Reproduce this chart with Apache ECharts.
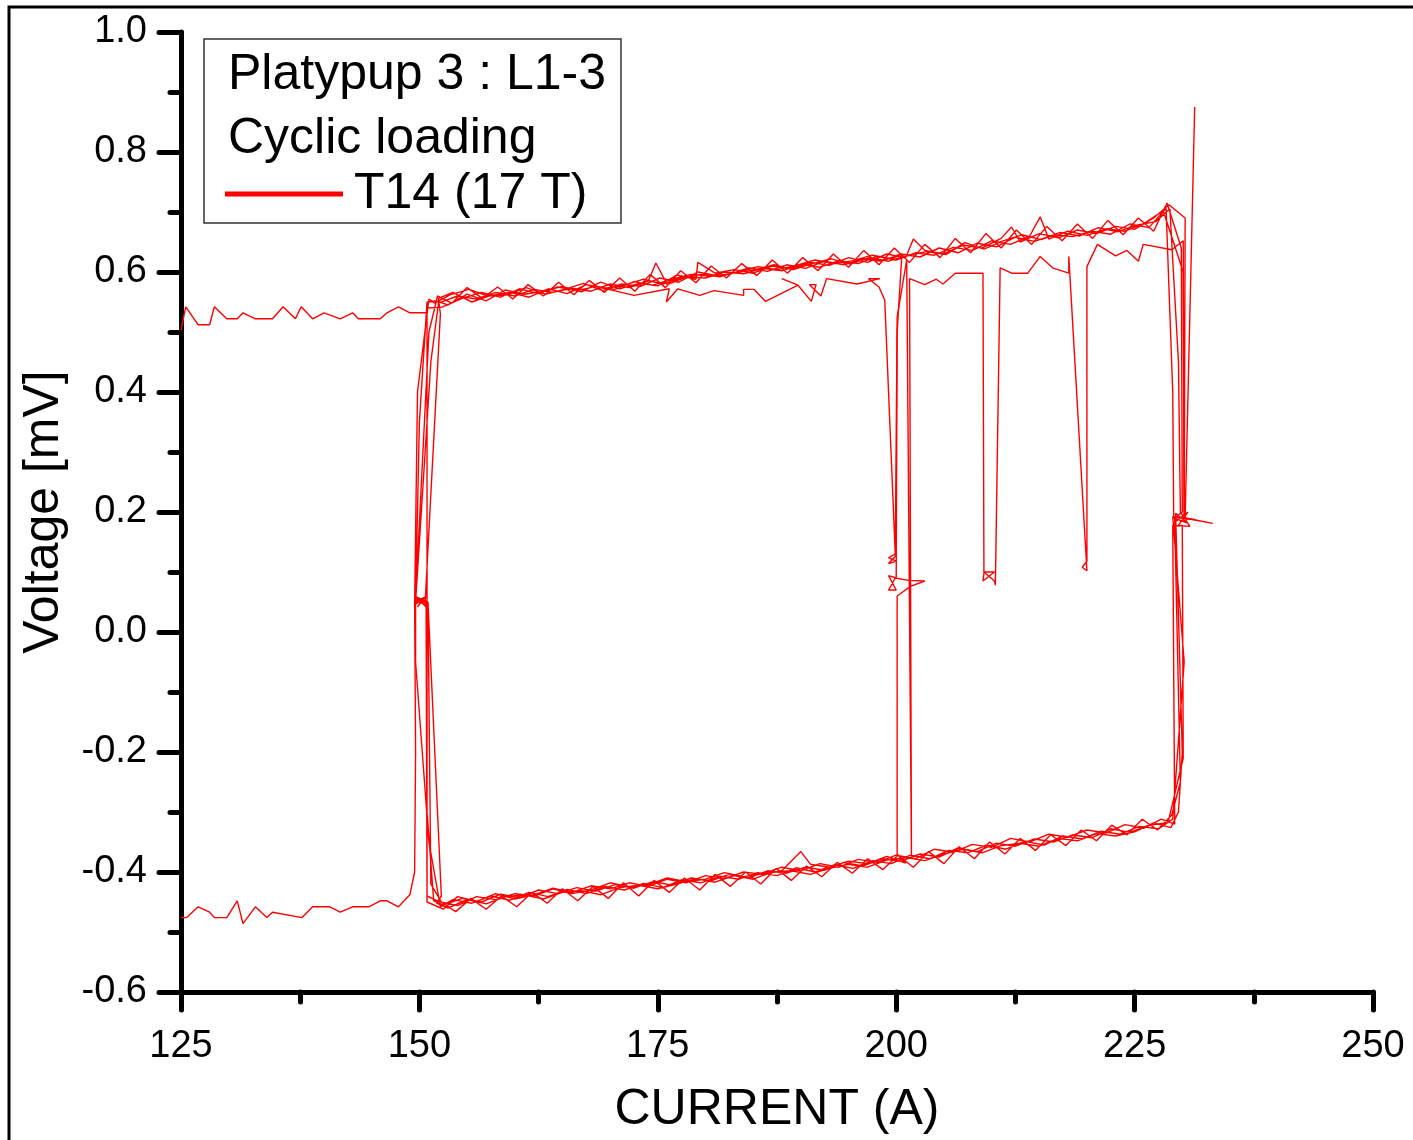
<!DOCTYPE html>
<html>
<head>
<meta charset="utf-8">
<script src="https://cdn.jsdelivr.net/npm/echarts@6/dist/echarts.min.js"></script>
<style>html,body{margin:0;padding:0;background:#fff;}#c{width:1413px;height:1140px;}</style>
</head>
<body>
<div id="c"></div>
<script>
// ---- data: [current (A), voltage (mV)] ----
const seriesName = 'T14 (17 T)';
const xTicks = [125, 150, 175, 200, 225, 250];
const yTicks = [-0.6, -0.4, -0.2, 0.0, 0.2, 0.4, 0.6, 0.8, 1.0];

const initUpper = [[125.0,0.503],[125.5,0.542],[126.8,0.512],[128.0,0.512],[128.5,0.542],[129.8,0.522],[130.9,0.522],[131.5,0.532],[132.8,0.522],[134.6,0.522],[135.7,0.542],[137.0,0.522],[137.6,0.542],[138.8,0.522],[140.0,0.532],[141.7,0.522],[143.0,0.532],[143.6,0.522],[145.9,0.522],[146.6,0.532],[147.8,0.542],[149.0,0.532],[150.8,0.532],[150.8,0.050],[149.6,0.050],[151.2,0.450],[152.0,0.548]];

const initLower = [[125.0,-0.476],[125.6,-0.476],[126.8,-0.458],[128.0,-0.467],[128.5,-0.476],[129.8,-0.476],[130.9,-0.448],[131.5,-0.486],[132.8,-0.458],[134.0,-0.476],[134.6,-0.467],[137.7,-0.476],[138.8,-0.458],[140.6,-0.458],[141.7,-0.467],[143.0,-0.458],[144.7,-0.458],[145.9,-0.448],[146.6,-0.448],[147.8,-0.458],[149.0,-0.438],[149.5,-0.400],[149.6,-0.200],[149.5,0.050],[150.6,0.058],[149.8,0.042]];

const upperA = [[152.0,0.548],[154.0,0.560],[156.0,0.555],[158.0,0.566],[160.0,0.560],[162.0,0.571],[164.0,0.566],[166.0,0.573],[168.0,0.568],[170.0,0.580],[172.0,0.574],[174.0,0.585],[174.8,0.615],[176.0,0.579],[178.0,0.592],[180.0,0.590],[182.0,0.600],[184.0,0.597],[186.0,0.606],[188.0,0.602],[190.0,0.613],[192.0,0.608],[194.0,0.619],[196.0,0.614],[198.0,0.626],[200.0,0.620],[202.0,0.632],[204.0,0.628],[206.0,0.641],[208.0,0.636],[210.0,0.652],[212.0,0.646],[214.0,0.660],[215.1,0.692],[216.0,0.655],[218.0,0.668],[220.0,0.661],[222.0,0.672],[224.0,0.668],[226.0,0.681],[228.0,0.702]];
const rightA = [[228.0,0.702],[230.1,0.600],[230.2,0.195],[229.4,0.185],[230.6,0.200],[229.5,0.176],[230.0,0.178],[230.1,-0.210],[228.5,-0.318]];
const lowerA = [[228.5,-0.318],[226.5,-0.322],[224.5,-0.334],[222.5,-0.328],[220.5,-0.343],[218.5,-0.338],[216.5,-0.350],[214.5,-0.345],[212.5,-0.357],[210.5,-0.352],[208.5,-0.366],[206.5,-0.360],[204.5,-0.375],[202.5,-0.370],[200.5,-0.382],[198.5,-0.378],[196.5,-0.390],[194.5,-0.384],[192.5,-0.397],[190.5,-0.392],[188.5,-0.402],[186.5,-0.398],[184.5,-0.410],[182.5,-0.404],[180.5,-0.415],[178.5,-0.410],[176.5,-0.422],[174.5,-0.416],[172.5,-0.427],[170.5,-0.421],[168.5,-0.432],[166.5,-0.426],[164.5,-0.436],[162.5,-0.430],[160.5,-0.443],[158.5,-0.437],[156.5,-0.450],[154.5,-0.444],[152.5,-0.455],[151.5,-0.448]];
const leftAB = [[151.5,-0.448],[150.8,-0.300],[150.8,0.045],[149.6,0.052],[150.0,0.350],[150.8,0.550],[151.8,0.552]];

const upperB = [[151.8,0.552],[153.0,0.545],[155.0,0.563],[157.0,0.552],[159.0,0.570],[161.0,0.563],[163.0,0.568],[165.0,0.576],[167.0,0.567],[169.0,0.583],[171.0,0.572],[173.0,0.581],[175.0,0.577],[177.0,0.595],[179.0,0.588],[179.2,0.616],[181.0,0.598],[183.0,0.604],[185.0,0.598],[187.0,0.610],[189.0,0.605],[191.0,0.616],[193.0,0.611],[195.0,0.624],[197.0,0.616],[199.0,0.630],[201.0,0.624],[201.8,0.655],[203.0,0.636],[205.0,0.630],[207.0,0.645],[209.0,0.640],[211.0,0.656],[212.1,0.675],[213.0,0.650],[215.0,0.664],[217.0,0.657],[219.0,0.670],[221.0,0.664],[223.0,0.676],[225.0,0.671],[227.0,0.690],[228.6,0.712]];
const rightB = [[228.6,0.712],[230.3,0.690],[230.2,0.190],[231.4,0.187],[229.0,0.192],[230.2,-0.050],[229.0,-0.312]];
const lowerB = [[229.0,-0.312],[227.5,-0.328],[225.5,-0.324],[223.5,-0.337],[221.5,-0.332],[219.5,-0.345],[217.5,-0.340],[215.5,-0.355],[213.5,-0.349],[211.5,-0.362],[209.5,-0.355],[207.5,-0.368],[205.5,-0.364],[203.5,-0.378],[201.5,-0.372],[199.5,-0.386],[197.5,-0.381],[195.5,-0.394],[193.5,-0.388],[191.5,-0.400],[189.5,-0.393],[187.5,-0.406],[185.5,-0.401],[183.5,-0.412],[181.5,-0.407],[179.5,-0.418],[177.5,-0.413],[175.5,-0.426],[173.5,-0.419],[171.5,-0.430],[169.5,-0.424],[167.5,-0.436],[165.5,-0.429],[163.5,-0.441],[161.5,-0.434],[159.5,-0.447],[157.5,-0.440],[155.5,-0.452],[153.5,-0.446],[152.2,-0.458]];
const leftBC = [[152.2,-0.458],[151.0,-0.350],[149.6,-0.050],[149.6,0.060],[150.8,0.040],[150.8,0.540],[152.3,0.541]];

const upperC = [[152.3,0.541],[154.5,0.556],[156.5,0.566],[158.5,0.558],[160.5,0.572],[162.5,0.564],[164.5,0.575],[166.5,0.569],[168.5,0.576],[170.5,0.571],[172.5,0.584],[174.5,0.578],[176.5,0.588],[178.5,0.596],[180.5,0.593],[182.5,0.596],[184.5,0.607],[186.5,0.601],[188.5,0.612],[190.5,0.606],[192.5,0.618],[194.5,0.612],[196.5,0.622],[198.5,0.618],[200.5,0.630],[202.5,0.625],[204.5,0.640],[206.5,0.632],[208.5,0.648],[210.5,0.642],[212.5,0.658],[214.5,0.651],[216.5,0.662],[218.5,0.659],[220.5,0.668],[222.5,0.663],[224.5,0.680],[226.5,0.674],[228.3,0.706]];
const rightC = [[228.3,0.706],[229.0,0.400],[229.1,0.190],[230.5,0.182],[229.3,0.198],[230.0,-0.200],[229.6,-0.300],[228.8,-0.326]];
const lowerC = [[228.8,-0.326],[227.0,-0.318],[225.0,-0.333],[223.0,-0.340],[221.0,-0.336],[219.0,-0.348],[217.0,-0.344],[215.0,-0.357],[213.0,-0.352],[211.0,-0.356],[209.0,-0.368],[207.0,-0.362],[205.0,-0.370],[203.0,-0.381],[201.0,-0.376],[199.0,-0.380],[197.0,-0.392],[195.0,-0.387],[193.0,-0.394],[191.0,-0.404],[189.0,-0.398],[187.0,-0.400],[185.0,-0.412],[183.0,-0.406],[181.0,-0.417],[179.0,-0.411],[177.0,-0.420],[175.0,-0.428],[173.0,-0.422],[171.0,-0.426],[169.0,-0.438],[167.0,-0.431],[165.0,-0.434],[163.0,-0.445],[161.0,-0.438],[159.0,-0.441],[157.0,-0.453],[155.0,-0.446],[153.0,-0.460],[151.8,-0.452]];
const leftCD = [[151.8,-0.452],[152.3,-0.440],[150.9,0.050],[149.7,0.058],[150.6,0.049],[152.2,0.530],[152.0,0.556]];

const upperD = [[152.0,0.556],[153.5,0.566],[155.5,0.550],[157.5,0.561],[159.5,0.566],[161.5,0.558],[163.5,0.572],[165.5,0.564],[167.5,0.579],[169.5,0.573],[171.5,0.578],[173.5,0.588],[175.5,0.580],[177.5,0.590],[179.5,0.596],[181.5,0.592],[183.5,0.601],[185.5,0.609],[187.5,0.604],[189.5,0.611],[191.5,0.620],[193.5,0.614],[195.5,0.619],[197.5,0.628],[199.5,0.622],[200.6,0.630]];
const dropD = [[200.6,0.630],[200.1,0.500],[200.0,0.090],[199.2,0.094],[200.0,0.070],[199.2,0.070],[199.9,0.090],[201.3,0.086],[203.0,0.085],[201.5,0.076],[200.1,0.060],[200.1,-0.370],[201.0,-0.385]];
const lowerD = [[201.0,-0.385],[199.0,-0.374],[197.0,-0.386],[195.0,-0.382],[193.0,-0.392],[191.0,-0.387],[190.0,-0.366],[188.0,-0.398],[186.0,-0.404],[184.0,-0.400],[182.0,-0.411],[180.0,-0.406],[178.0,-0.418],[176.0,-0.412],[174.0,-0.424],[172.0,-0.418],[170.0,-0.428],[168.0,-0.423],[166.0,-0.434],[164.0,-0.427],[162.0,-0.438],[160.0,-0.445],[158.0,-0.436],[156.0,-0.449],[154.0,-0.441],[152.5,-0.462]];
const leftDE = [[152.5,-0.462],[150.8,-0.450],[150.8,0.060],[149.5,0.045],[149.8,0.400],[151.0,0.555],[151.6,0.548]];

const upperE = [[151.6,0.548],[153.2,0.562],[155.2,0.571],[157.2,0.560],[159.2,0.562],[161.2,0.574],[163.2,0.563],[165.2,0.571],[167.2,0.581],[169.2,0.569],[171.2,0.580],[173.2,0.576],[175.2,0.590],[177.2,0.583],[179.2,0.600],[181.2,0.594],[183.2,0.599],[185.2,0.604],[187.2,0.612],[189.2,0.604],[191.2,0.614],[193.2,0.622],[195.2,0.613],[197.2,0.624],[199.2,0.618],[201.2,0.628],[203.2,0.634],[205.2,0.629],[207.2,0.649],[209.2,0.638],[211.2,0.652],[213.2,0.662],[215.2,0.654],[217.2,0.666],[219.2,0.660],[221.2,0.674],[223.2,0.667],[225.2,0.678],[227.2,0.684],[228.7,0.705]];
const rightE = [[228.7,0.705],[229.6,0.450],[229.8,0.200],[230.8,0.176],[229.0,0.178],[229.2,-0.300],[229.2,-0.320]];
const lowerE = [[229.2,-0.320],[227.8,-0.312],[226.0,-0.327],[224.0,-0.321],[222.0,-0.335],[220.0,-0.330],[218.0,-0.342],[216.0,-0.337],[214.0,-0.350],[212.0,-0.344],[210.0,-0.359],[208.0,-0.354],[206.0,-0.367],[204.0,-0.362],[202.0,-0.378],[200.0,-0.372],[198.0,-0.384],[196.0,-0.379],[194.0,-0.392],[192.0,-0.386],[190.0,-0.398],[188.0,-0.392],[186.0,-0.403],[184.0,-0.408],[182.0,-0.401],[180.0,-0.412],[178.0,-0.416],[176.0,-0.410],[174.0,-0.421],[172.0,-0.425],[170.0,-0.418],[168.0,-0.430],[166.0,-0.436],[164.0,-0.428],[162.0,-0.440],[160.0,-0.436],[158.0,-0.446],[156.0,-0.441],[154.0,-0.456],[152.0,-0.449]];
const leftEF = [[152.0,-0.449],[150.8,-0.440],[150.7,0.050],[149.6,0.055],[151.0,0.500],[151.9,0.560]];

const upperF = [[151.9,0.560],[153.4,0.548],[155.0,0.574],[156.6,0.556],[158.2,0.575],[159.8,0.555],[161.4,0.579],[163.0,0.560],[164.6,0.583],[166.2,0.562],[167.8,0.586],[169.4,0.566],[171.0,0.590],[172.6,0.568],[174.2,0.596],[175.8,0.574],[177.4,0.602],[179.0,0.582],[180.6,0.610],[182.2,0.590],[183.8,0.614],[185.4,0.594],[187.0,0.620],[188.6,0.598],[190.2,0.624],[191.8,0.602],[193.4,0.630],[195.0,0.608],[196.6,0.636],[198.2,0.612],[199.8,0.640],[201.4,0.616],[203.0,0.646],[204.6,0.624],[206.2,0.656],[207.8,0.632],[209.4,0.664],[211.0,0.640],[212.6,0.670],[214.2,0.646],[215.8,0.676],[217.4,0.652],[219.0,0.680],[220.6,0.656],[222.2,0.686],[223.8,0.662],[225.4,0.690],[227.0,0.668],[228.4,0.715]];
const rightF = [[228.4,0.715],[229.9,0.640],[230.0,0.200],[229.2,0.190],[229.8,-0.250],[228.9,-0.305]];
const lowerF = [[228.9,-0.305],[227.4,-0.330],[225.8,-0.312],[224.2,-0.338],[222.6,-0.322],[221.0,-0.348],[219.4,-0.330],[217.8,-0.356],[216.2,-0.338],[214.6,-0.364],[213.0,-0.344],[211.4,-0.370],[209.8,-0.350],[208.2,-0.378],[206.6,-0.358],[205.0,-0.386],[203.4,-0.366],[201.8,-0.392],[200.2,-0.372],[198.6,-0.396],[197.0,-0.378],[195.4,-0.402],[193.8,-0.384],[192.2,-0.408],[190.6,-0.390],[189.0,-0.414],[187.4,-0.394],[185.8,-0.420],[184.2,-0.400],[182.6,-0.424],[181.0,-0.404],[179.4,-0.430],[177.8,-0.410],[176.2,-0.434],[174.6,-0.414],[173.0,-0.440],[171.4,-0.418],[169.8,-0.444],[168.2,-0.424],[166.6,-0.448],[165.0,-0.428],[163.4,-0.452],[161.8,-0.434],[160.2,-0.458],[158.6,-0.440],[157.0,-0.462],[155.4,-0.444],[153.8,-0.466],[152.3,-0.450]];
const leftEnd = [[152.3,-0.450],[151.2,-0.420],[150.9,0.050]];

const secondary = [[168.5,0.576],[172.5,0.561],[176.2,0.572],[175.9,0.550],[177.1,0.572],[179.4,0.561],[180.9,0.569],[184.0,0.561],[184.0,0.571],[185.1,0.571],[186.3,0.551],[189.7,0.578],[188.0,0.589],[189.7,0.578],[191.1,0.551],[191.6,0.579],[190.9,0.579],[192.1,0.560],[192.7,0.589],[195.9,0.580],[198.3,0.589],[197.1,0.589],[198.2,0.575],[198.8,0.553],[199.9,0.130],[199.2,0.124],[200.0,0.118],[199.2,0.114],[199.9,0.126],[200.1,0.525],[201.1,0.620],[201.6,-0.372],[201.4,0.589],[203.0,0.579],[204.2,0.588],[204.9,0.580],[206.2,0.598],[209.1,0.598],[209.2,0.097],[209.1,0.085],[210.3,0.100],[209.2,0.100],[210.3,0.085],[210.4,0.078],[210.9,0.607],[212.1,0.598],[213.8,0.598],[215.1,0.626],[216.4,0.607],[218.1,0.598],[218.1,0.626],[220.0,0.102],[219.5,0.108],[220.0,0.118],[220.0,0.609],[221.1,0.646],[223.0,0.627],[224.2,0.636],[225.4,0.618],[225.9,0.646],[228.9,0.637],[230.1,0.652],[230.2,0.190],[233.2,0.181],[230.3,0.190],[231.3,0.875]];

// ---- chart ----
const FONT = "'Liberation Sans', Arial, Helvetica, sans-serif";
const RED = '#ff0000';
const mainPath = [].concat(initUpper, upperA, rightA, lowerA, leftAB, upperB, rightB, lowerB, leftBC,
  upperC, rightC, lowerC, leftCD, upperD, dropD, lowerD, leftDE, upperE, rightE, lowerE, leftEF,
  upperF, rightF, lowerF, leftEnd);
const paths = [mainPath, initLower, secondary];

const chart = echarts.init(document.getElementById('c'), null, {renderer: 'canvas'});
chart.setOption({
  animation: false,
  backgroundColor: '#ffffff',
  grid: {left: 181, right: 40, top: 32, bottom: 143, containLabel: false},
  xAxis: {
    type: 'value', min: xTicks[0], max: xTicks[xTicks.length - 1], interval: 25,
    name: 'CURRENT (A)', nameLocation: 'middle', nameGap: 93,
    nameTextStyle: {fontFamily: FONT, fontSize: 50, color: '#000'},
    axisLine: {show: true, onZero: false, lineStyle: {color: '#000', width: 5, cap: 'round'}},
    axisTick: {show: true, inside: false, length: 18, lineStyle: {color: '#000', width: 5, cap: 'round'}},
    minorTick: {show: true, splitNumber: 2, length: 10, lineStyle: {color: '#000', width: 5, cap: 'round'}},
    axisLabel: {fontFamily: FONT, fontSize: 38, color: '#000', margin: 36},
    splitLine: {show: false}
  },
  yAxis: {
    type: 'value', min: yTicks[0], max: yTicks[yTicks.length - 1], interval: 0.2,
    name: 'Voltage [mV]', nameLocation: 'middle', nameGap: 112, nameRotate: 90,
    nameTextStyle: {fontFamily: FONT, fontSize: 50, color: '#000'},
    axisLine: {show: true, onZero: false, lineStyle: {color: '#000', width: 5, cap: 'round'}},
    axisTick: {show: true, inside: false, length: 22, lineStyle: {color: '#000', width: 5, cap: 'round'}},
    minorTick: {show: true, splitNumber: 2, length: 11, lineStyle: {color: '#000', width: 5, cap: 'round'}},
    axisLabel: {fontFamily: FONT, fontSize: 38, color: '#000', margin: 34,
      formatter: v => v.toFixed(1)},
    splitLine: {show: false}
  },
  legend: {
    data: [seriesName], left: 225, top: 166, icon: 'rect', itemWidth: 118, itemHeight: 5,
    selectedMode: false, padding: 0,
    textStyle: {fontFamily: FONT, fontSize: 50, color: '#000', padding: [0, 0, 0, 6], lineHeight: 56}
  },
  graphic: [
    {type: 'rect', z: 100, shape: {x: 9, y: 7, width: 1440, height: 1200},
      style: {fill: 'none', stroke: '#000', lineWidth: 3}},
    {type: 'rect', z: 3, shape: {x: 204, y: 39, width: 417, height: 184},
      style: {fill: '#fff', stroke: '#333', lineWidth: 1.5}},
    {type: 'text', z: 5, x: 228, y: 50,
      style: {text: 'Platypup 3 : L1-3', font: '50px ' + FONT, fill: '#000', textVerticalAlign: 'top'}},
    {type: 'text', z: 5, x: 228, y: 114,
      style: {text: 'Cyclic loading', font: '50px ' + FONT, fill: '#000', textVerticalAlign: 'top'}}
  ],
  series: paths.map(p => ({
    name: seriesName, type: 'line', data: p, showSymbol: false, symbol: 'none',
    lineStyle: {color: RED, width: 1.4}, itemStyle: {color: RED}, z: 2
  }))
});
</script>
</body>
</html>
